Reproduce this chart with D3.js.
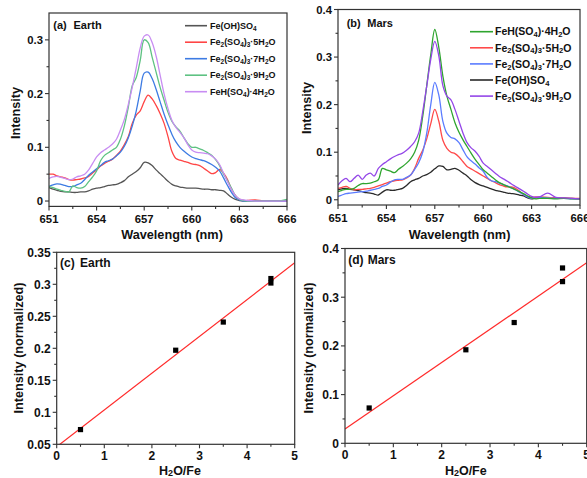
<!DOCTYPE html>
<html><head><meta charset="utf-8">
<script src="https://cdn.jsdelivr.net/npm/d3@7"></script>
<style>
body{margin:0;background:#fff}
svg{display:block}
text{font-family:"Liberation Sans",Arial,Helvetica,sans-serif;font-weight:bold;fill:#111}
</style>
</head><body>
<svg id="chart" width="587" height="478"></svg>
<script>
// ---------- DATA ----------
const wavelength = [651,651.25,651.5,651.75,652,652.25,652.5,652.75,653,653.25,653.5,653.75,654,654.25,654.5,654.75,655,655.25,655.5,655.75,656,656.25,656.5,656.75,657,657.25,657.5,657.75,658,658.25,658.5,658.75,659,659.25,659.5,659.75,660,660.25,660.5,660.75,661,661.25,661.5,661.75,662,662.25,662.5,662.75,663,663.25,663.5,664,664.5,665,665.5,666];

// (a) Earth spectra
const earthFeOHSO4 = [0.025,0.022,0.02,0.018,0.017,0.017,0.016,0.016,0.017,0.017,0.019,0.022,0.024,0.025,0.027,0.029,0.03,0.031,0.034,0.038,0.045,0.05,0.055,0.062,0.072,0.071,0.066,0.058,0.051,0.044,0.037,0.031,0.028,0.026,0.025,0.024,0.024,0.024,0.023,0.022,0.022,0.021,0.021,0.02,0.019,0.013,0.007,0.003,0.001,0,0,0,0,0,0,0];
const earthFe2_5H2O = [0.05,0.05,0.047,0.045,0.043,0.04,0.039,0.04,0.041,0.043,0.046,0.052,0.058,0.065,0.07,0.074,0.078,0.085,0.093,0.105,0.12,0.145,0.16,0.168,0.185,0.197,0.19,0.178,0.163,0.145,0.12,0.092,0.079,0.076,0.074,0.072,0.069,0.068,0.066,0.061,0.056,0.051,0.053,0.059,0.052,0.04,0.022,0.01,0.003,0.001,0.001,0.002,0,0,0,0];
const earthFe2_7H2O = [0.027,0.03,0.032,0.031,0.029,0.027,0.027,0.03,0.033,0.04,0.048,0.054,0.06,0.066,0.072,0.075,0.078,0.084,0.091,0.102,0.118,0.14,0.168,0.205,0.238,0.24,0.228,0.208,0.185,0.162,0.142,0.124,0.11,0.1,0.093,0.087,0.082,0.079,0.077,0.075,0.072,0.068,0.063,0.056,0.043,0.029,0.016,0.006,0.002,0,0,0,0,0,0,0];
const earthFe2_9H2O = [0.027,0.025,0.022,0.02,0.018,0.017,0.028,0.025,0.024,0.027,0.036,0.045,0.056,0.075,0.085,0.09,0.095,0.1,0.115,0.14,0.175,0.215,0.23,0.262,0.3,0.295,0.268,0.24,0.212,0.188,0.165,0.148,0.138,0.13,0.118,0.107,0.1,0.1,0.097,0.094,0.09,0.085,0.077,0.066,0.05,0.038,0.024,0.01,0.003,0.001,0,0,0,0,0,0.003];
const earthFeH_4H2O = [0.042,0.045,0.046,0.044,0.042,0.04,0.041,0.045,0.047,0.05,0.058,0.07,0.082,0.09,0.095,0.1,0.106,0.115,0.132,0.152,0.18,0.212,0.248,0.285,0.307,0.309,0.295,0.27,0.235,0.2,0.172,0.15,0.137,0.128,0.118,0.105,0.095,0.091,0.09,0.089,0.088,0.084,0.078,0.068,0.052,0.036,0.022,0.01,0.004,0.002,0.001,0,0,0,0,0];

// (b) Mars spectra
const marsFeH_4H2O = [0.017,0.02,0.022,0.022,0.024,0.03,0.034,0.034,0.035,0.038,0.042,0.066,0.063,0.06,0.057,0.064,0.07,0.077,0.086,0.1,0.125,0.175,0.24,0.305,0.358,0.32,0.26,0.218,0.19,0.162,0.142,0.126,0.112,0.098,0.085,0.074,0.063,0.056,0.049,0.042,0.036,0.032,0.028,0.025,0.021,0.017,0.013,0.008,0.004,0.002,0.003,0.003,0.002,0.003,0.002,0.002];
const marsFe2_5H2O = [0.024,0.026,0.028,0.024,0.021,0.022,0.022,0.023,0.024,0.026,0.029,0.032,0.035,0.038,0.04,0.041,0.042,0.046,0.052,0.066,0.087,0.104,0.128,0.16,0.19,0.165,0.125,0.108,0.1,0.097,0.09,0.08,0.07,0.065,0.06,0.055,0.05,0.045,0.04,0.036,0.032,0.029,0.027,0.027,0.024,0.018,0.011,0.007,0.005,0.006,0.006,0.005,0.004,0.004,0.003,0.003];
const marsFe2_7H2O = [0.007,0.01,0.013,0.014,0.015,0.016,0.017,0.018,0.02,0.022,0.024,0.028,0.031,0.037,0.042,0.043,0.043,0.047,0.052,0.064,0.078,0.1,0.14,0.2,0.247,0.22,0.165,0.14,0.131,0.128,0.12,0.105,0.09,0.082,0.075,0.067,0.06,0.047,0.04,0.038,0.035,0.032,0.029,0.025,0.021,0.016,0.011,0.006,0.003,0.005,0.005,0.004,0.003,0.003,0.002,0.002];
const marsFeOHSO4 = [0.021,0.023,0.024,0.022,0.021,0.019,0.017,0.015,0.014,0.012,0.01,0.016,0.021,0.02,0.02,0.022,0.024,0.03,0.038,0.042,0.045,0.05,0.053,0.058,0.065,0.071,0.07,0.063,0.064,0.066,0.062,0.056,0.05,0.042,0.036,0.032,0.029,0.026,0.023,0.02,0.018,0.016,0.014,0.013,0.012,0.01,0.008,0.004,0.002,0.004,0.005,0.003,0.004,0.003,0.003,0.002];
const marsFe2_9H2O = [0.031,0.04,0.045,0.038,0.045,0.052,0.043,0.052,0.056,0.05,0.066,0.074,0.08,0.086,0.091,0.095,0.098,0.104,0.112,0.122,0.14,0.185,0.239,0.295,0.333,0.302,0.24,0.218,0.21,0.19,0.165,0.14,0.12,0.109,0.102,0.091,0.077,0.07,0.063,0.056,0.049,0.044,0.039,0.033,0.028,0.023,0.018,0.012,0.007,0.005,0.006,0.014,0.005,0.004,0.003,0.002];

// legend labels ("_x" = subscript x)
const earthLabels = ["Fe(OH)SO_4","Fe_2(SO_4)_3·5H_2O","Fe_2(SO_4)_3·7H_2O","Fe_2(SO_4)_3·9H_2O","FeH(SO_4)·4H_2O"];
const marsLabels  = ["FeH(SO_4)·4H_2O","Fe_2(SO_4)_3·5H_2O","Fe_2(SO_4)_3·7H_2O","Fe(OH)SO_4","Fe_2(SO_4)_3·9H_2O"];

// (c)/(d) intensity vs H2O/Fe
const h2oFe = [0.5, 2.5, 3.5, 4.5, 4.5];
const earthIntensity = [0.073, 0.197, 0.241, 0.302, 0.309];
const marsIntensity  = [0.0725, 0.192, 0.248, 0.332, 0.360];

// tick values
const spectraXTicks = [651,654,657,660,663,666];
const earthSpecYTicks = [0, 0.1, 0.2, 0.3];
const marsSpecYTicks = [0, 0.1, 0.2, 0.3, 0.4];
const ratioXTicks = [0,1,2,3,4,5];
const earthRatioYTicks = [0.05,0.1,0.15,0.2,0.25,0.3,0.35];
const marsRatioYTicks = [0,0.1,0.2,0.3,0.4];

// ---------- STYLE ----------
const earthColors = ["#555555","#ff4545","#3d7be3","#5ec282","#c88df2"];
const marsColors  = ["#2a2a2a","#ff4a4a","#5b7cff","#2fa52f","#9447e8"];

const svg = d3.select("#chart");

function richText(sel, str, subSize, shift){
  const parts = [];
  let i = 0, buf = "";
  while (i < str.length){
    if (str[i] === "_"){ if (buf) parts.push({t:buf, sub:false}); buf=""; parts.push({t:str[i+1], sub:true}); i+=2; }
    else { buf += str[i]; i++; }
  }
  if (buf) parts.push({t:buf, sub:false});
  let prevSub = false;
  const s = shift || 0.25;
  parts.forEach(p=>{
    const ts = sel.append("tspan").text(p.t);
    if (p.sub){ ts.attr("font-size", subSize); if(!prevSub) ts.attr("dy", s+"em"); }
    else if (prevSub){ ts.attr("dy", (-s*subSize/parseFloat(sel.attr("font-size"))).toFixed(3)+"em"); }
    prevSub = p.sub;
  });
}

function frame(g, x, y){
  const [x0,x1] = x.range(), [y0,y1] = y.range();
  g.append("rect").attr("x",x0).attr("y",y1).attr("width",x1-x0).attr("height",y0-y1)
    .attr("fill","none").attr("stroke","#333").attr("stroke-width",1.2);
}

function axes(g, x, y, xt, yt, xMinor, yMinor, fs, xLabDy, yFmt){
  const [x0,x1] = x.range(), [y0,y1] = y.range();
  const tk = g.append("g").attr("stroke","#333").attr("stroke-width",1.1);
  xt.forEach(v=> tk.append("line").attr("x1",x(v)).attr("x2",x(v)).attr("y1",y0).attr("y2",y0+4));
  xMinor.forEach(v=> tk.append("line").attr("x1",x(v)).attr("x2",x(v)).attr("y1",y0).attr("y2",y0+2.5));
  yt.forEach(v=> tk.append("line").attr("y1",y(v)).attr("y2",y(v)).attr("x1",x0).attr("x2",x0-4));
  yMinor.forEach(v=> tk.append("line").attr("y1",y(v)).attr("y2",y(v)).attr("x1",x0).attr("x2",x0-2.5));
  xt.forEach(v=> g.append("text").attr("x",x(v)).attr("y",y0+xLabDy).attr("text-anchor","middle")
     .attr("font-size",fs).text(String(v)));
  yt.forEach(v=> g.append("text").attr("x",x0-6).attr("y",y(v)+fs*0.36).attr("text-anchor","end")
     .attr("font-size",fs).text(yFmt(v)));
}

function mids(arr){ const m=[]; for(let i=0;i<arr.length-1;i++) m.push((arr[i]+arr[i+1])/2); return m; }

function spectraPanel(opts){
  const g = svg.append("g");
  const x = d3.scaleLinear().domain([651,666]).range(opts.xr);
  const y = d3.scaleLinear().domain(opts.yd).range(opts.yr);
  const clipId = "clip"+opts.id;
  g.append("clipPath").attr("id",clipId).append("rect")
    .attr("x",opts.xr[0]).attr("y",opts.yr[1]).attr("width",opts.xr[1]-opts.xr[0]).attr("height",opts.yr[0]-opts.yr[1]);
  const line = d3.line().x((d,i)=>x(wavelength[i])).y(d=>y(d)).curve(d3.curveCatmullRom.alpha(0.5));
  const lg = g.append("g").attr("clip-path",`url(#${clipId})`);
  opts.drawOrder.forEach(k=>{
    lg.append("path").datum(opts.series[k]).attr("d",line).attr("fill","none")
      .attr("stroke",opts.colors[k]).attr("stroke-width",1.3).attr("stroke-linejoin","round");
  });
  frame(g,x,y);
  axes(g,x,y,spectraXTicks,opts.yt,mids(spectraXTicks),mids(opts.yt),11.3,16.8,v=>v===0?"0":String(v));
  opts.labels.forEach((lab,i)=>{
    const ly = opts.leg.y0 + i*opts.leg.dy;
    g.append("line").attr("x1",opts.leg.x0).attr("x2",opts.leg.x1).attr("y1",ly).attr("y2",ly)
      .attr("stroke",opts.colors[i]).attr("stroke-width",1.6);
    const t = g.append("text").attr("x",opts.leg.tx).attr("y",ly+opts.leg.fs*0.36).attr("font-size",opts.leg.fs);
    richText(t, lab, opts.leg.fs*0.72);
  });
  g.append("text").attr("x",opts.tag.x).attr("y",opts.tag.y).attr("font-size",11).text(opts.tag.a);
  g.append("text").attr("x",opts.tag.x2).attr("y",opts.tag.y).attr("font-size",11).text(opts.tag.b);
  g.append("text").attr("x",opts.xt.x).attr("y",opts.xt.y).attr("text-anchor","middle").attr("font-size",12.7).text("Wavelength (nm)");
  g.append("text").attr("transform",`translate(${opts.yt2.x},${opts.yt2.y}) rotate(-90)`).attr("text-anchor","middle")
    .attr("font-size",12.7).text("Intensity");
}

function ratioPanel(opts){
  const g = svg.append("g");
  const x = d3.scaleLinear().domain([0,5]).range(opts.xr);
  const y = d3.scaleLinear().domain(opts.yd).range(opts.yr);
  const clipId = "clip"+opts.id;
  g.append("clipPath").attr("id",clipId).append("rect")
    .attr("x",opts.xr[0]).attr("y",opts.yr[1]).attr("width",opts.xr[1]-opts.xr[0]).attr("height",opts.yr[0]-opts.yr[1]);
  // least-squares fit of the data points
  const mx = d3.mean(h2oFe), my = d3.mean(opts.vals);
  const sxy = d3.sum(h2oFe,(v,i)=>(v-mx)*(opts.vals[i]-my));
  const sxx = d3.sum(h2oFe,v=>(v-mx)*(v-mx));
  const slope = sxy/sxx, icpt = my - slope*mx;
  const fitX = x.domain();
  g.append("g").attr("clip-path",`url(#${clipId})`).append("line")
    .attr("x1",x(fitX[0])).attr("y1",y(icpt+slope*fitX[0]))
    .attr("x2",x(fitX[1])).attr("y2",y(icpt+slope*fitX[1]))
    .attr("stroke","#ff2a2a").attr("stroke-width",1.2);
  g.selectAll("rect.pt").data(opts.vals).enter().append("rect").attr("class","pt")
    .attr("x",(d,i)=>x(h2oFe[i])-2.6).attr("y",d=>y(d)-2.6).attr("width",5.2).attr("height",5.2).attr("fill","#000");
  frame(g,x,y);
  axes(g,x,y,ratioXTicks,opts.yt,mids(ratioXTicks),mids(opts.yt),12,16,v=>v===0?"0":String(v));
  g.append("text").attr("x",opts.tag.x).attr("y",opts.tag.y).attr("font-size",12).text(opts.tag.a);
  g.append("text").attr("x",opts.tag.x2).attr("y",opts.tag.y).attr("font-size",12).text(opts.tag.b);
  const xt = g.append("text").attr("x",opts.xt.x).attr("y",opts.xt.y).attr("text-anchor","middle").attr("font-size",12.5);
  richText(xt,"H_2O/Fe",9,0.15);
  g.append("text").attr("transform",`translate(${opts.yt2.x},${opts.yt2.y}) rotate(-90)`).attr("text-anchor","middle")
    .attr("font-size",12.7).text("Intensity (normalized)");
}

spectraPanel({
  id:"a", xr:[49,287], yd:[-0.01,0.35], yr:[206.4,13], yt:earthSpecYTicks,
  series:[earthFeOHSO4,earthFe2_5H2O,earthFe2_7H2O,earthFe2_9H2O,earthFeH_4H2O],
  colors:earthColors, labels:earthLabels, drawOrder:[0,1,2,3,4],
  leg:{x0:185,x1:207,tx:210,y0:25.7,dy:16.5,fs:9},
  tag:{x:53.3,x2:73.5,y:29,a:"(a)",b:"Earth"},
  xt:{x:172,y:238.5}, yt2:{x:20,y:113}
});
spectraPanel({
  id:"b", xr:[338,580], yd:[-0.011,0.4], yr:[205,9.5], yt:marsSpecYTicks,
  series:[marsFeH_4H2O,marsFe2_5H2O,marsFe2_7H2O,marsFeOHSO4,marsFe2_9H2O],
  colors:[marsColors[3],marsColors[1],marsColors[2],marsColors[0],marsColors[4]],
  labels:marsLabels, drawOrder:[3,1,2,0,4],
  leg:{x0:470,x1:493,tx:495,y0:31.7,dy:16.1,fs:10.5},
  tag:{x:346.7,x2:367.3,y:26.5,a:"(b)",b:"Mars"},
  xt:{x:459.5,y:238.5}, yt2:{x:311,y:108}
});
ratioPanel({
  id:"c", xr:[56.7,294.7], yd:[0.05,0.35], yr:[444.3,252.3], yt:earthRatioYTicks, vals:earthIntensity,
  tag:{x:60,x2:80,y:267,a:"(c)",b:"Earth"},
  xt:{x:180,y:475}, yt2:{x:23,y:348}
});
ratioPanel({
  id:"d", xr:[345,586.7], yd:[0,0.4], yr:[443.3,248.5], yt:marsRatioYTicks, vals:marsIntensity,
  tag:{x:348.3,x2:367.7,y:263.5,a:"(d)",b:"Mars"},
  xt:{x:465.8,y:475}, yt2:{x:313,y:348}
});
</script>
</body></html>
